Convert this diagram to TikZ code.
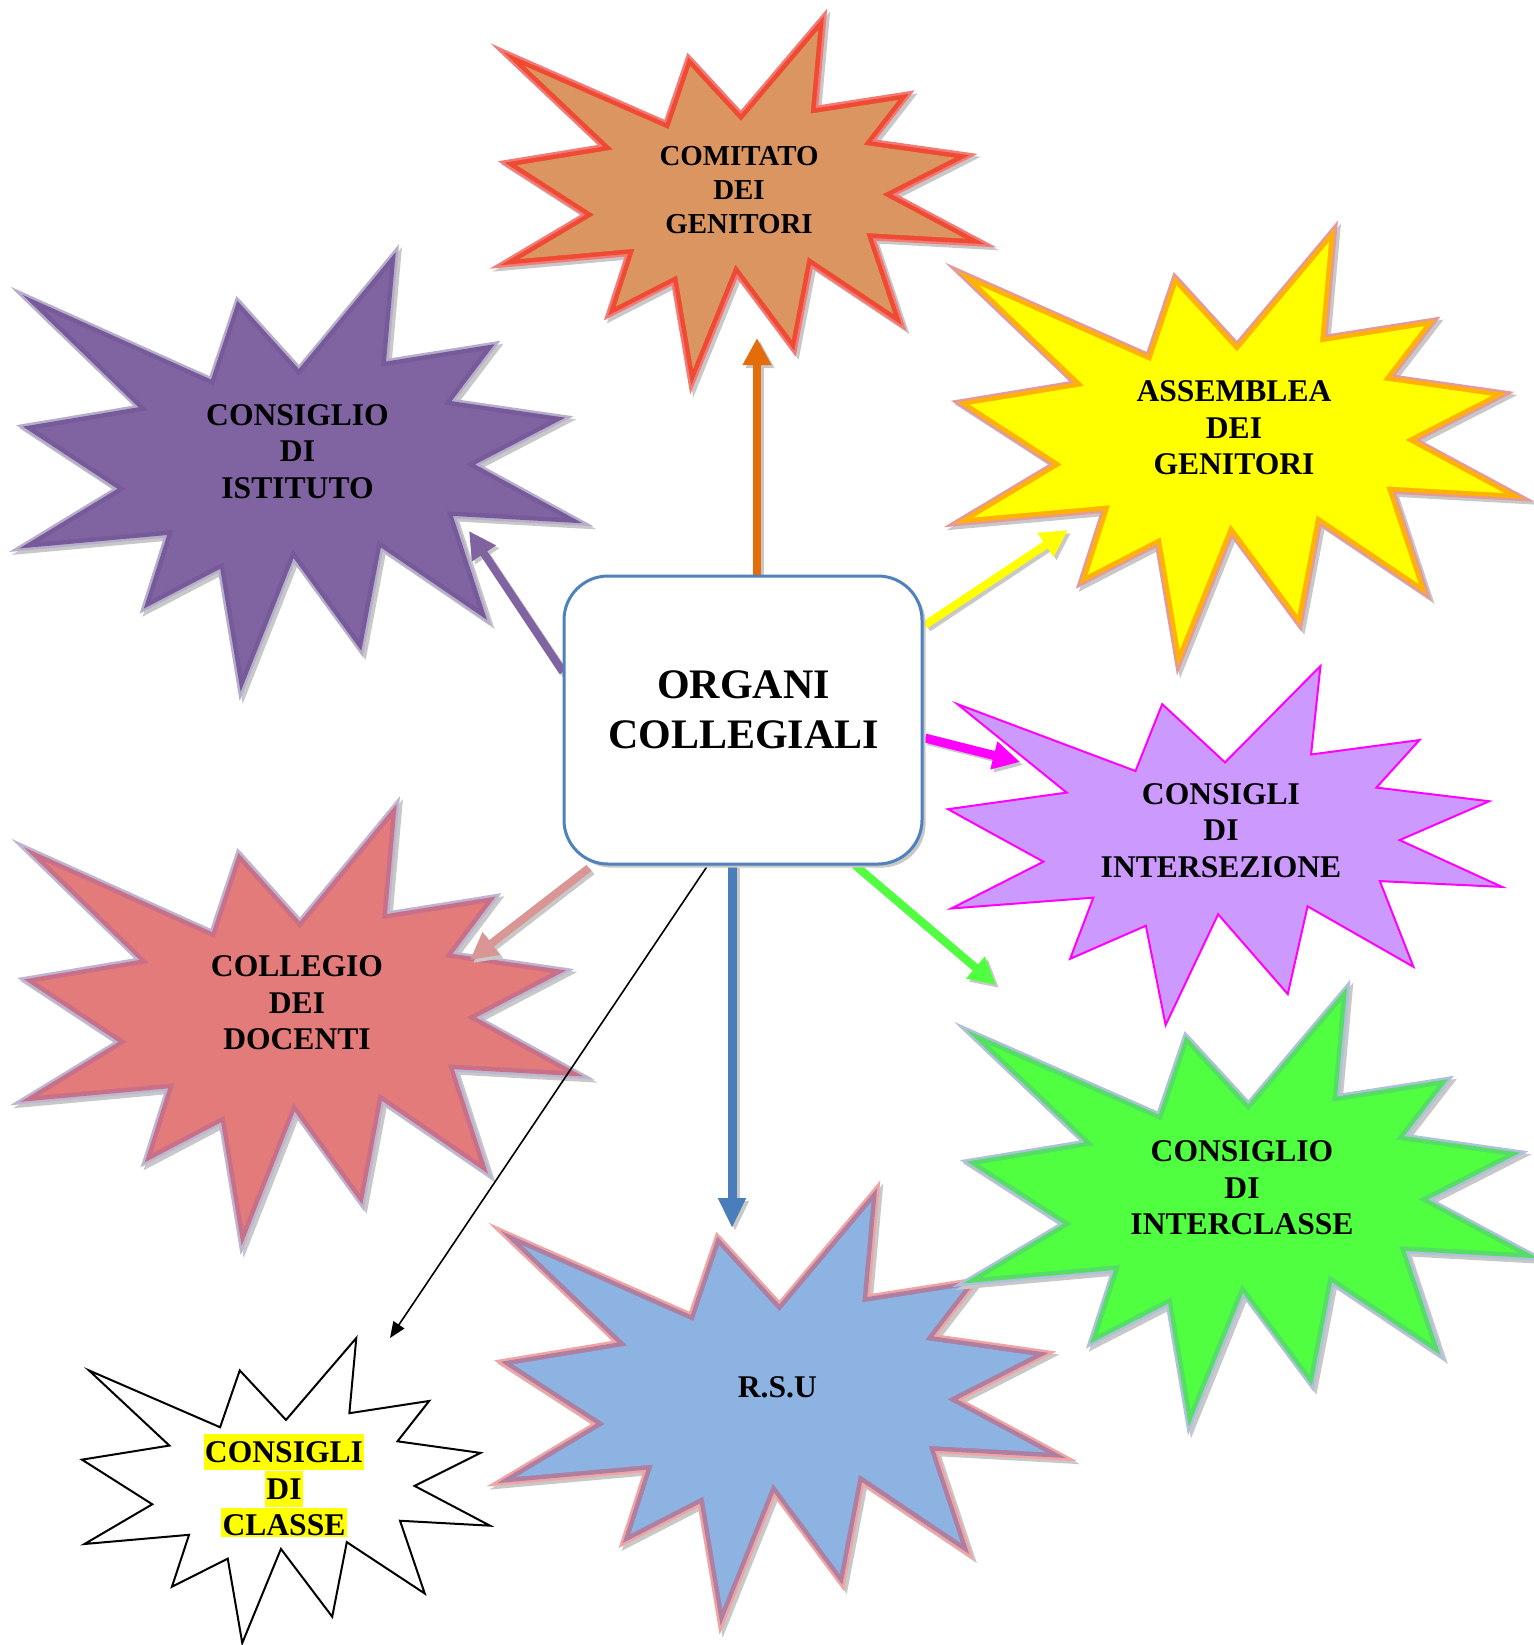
\documentclass[tikz,border=0pt]{standalone}
\usepackage{fontspec}
\setmainfont{Liberation Serif}
\usetikzlibrary{arrows.meta,shadows}

\definecolor{fillA}{HTML}{DA9560}\definecolor{innerA}{HTML}{EF4A33}\definecolor{outerA}{HTML}{F27B78}
\definecolor{fillB}{HTML}{8064A2}\definecolor{innerB}{HTML}{765A9A}\definecolor{outerB}{HTML}{B7AECB}
\definecolor{fillC}{HTML}{FFFF00}\definecolor{innerC}{HTML}{FFB300}\definecolor{outerC}{HTML}{E4999B}
\definecolor{fillD}{HTML}{E47B7B}\definecolor{innerD}{HTML}{C97089}\definecolor{outerD}{HTML}{BEB5D3}
\definecolor{fillF}{HTML}{4FFF40}\definecolor{innerF}{HTML}{55DD66}\definecolor{outerF}{HTML}{AFC1DB}
\definecolor{fillG}{HTML}{8DB3E2}\definecolor{innerG}{HTML}{AE7FA0}\definecolor{outerG}{HTML}{F2A4A4}
\definecolor{fillE}{HTML}{CC99FF}\definecolor{lineE}{HTML}{FF00FF}
\definecolor{shadowcol}{HTML}{C8C8C8}
\definecolor{boxblue}{HTML}{4F81BD}
\definecolor{arrOrange}{HTML}{E46C0A}
\definecolor{arrPurple}{HTML}{8064A2}
\definecolor{arrYellow}{HTML}{FFFF00}
\definecolor{arrMagenta}{HTML}{FF00FF}
\definecolor{arrGreen}{HTML}{50FF40}
\definecolor{arrPink}{HTML}{D99694}
\definecolor{arrBlue}{HTML}{4A7EBB}
\definecolor{hlyellow}{HTML}{FFFF00}

\def\sealpts{(0.5,0.26852) -- (0.67231,0) -- (0.65532,0.24653) -- (0.85093,0.20634) -- (0.77324,0.33866) -- (0.97671,0.37671) -- (0.81514,0.48495) -- (1,0.61528) -- (0.77949,0.59917) -- (0.84005,0.83773) -- (0.64907,0.66931) -- (0.61329,0.91375) -- (0.48759,0.69144) -- (0.39282,1) -- (0.35718,0.72347) -- (0.22046,0.8156) -- (0.26236,0.64523) -- (0.00625,0.67532) -- (0.17231,0.54514) -- (0,0.39884) -- (0.21421,0.35264) -- (0.01713,0.10625) -- (0.33852,0.29259) -- (0.38667,0.10625) -- cycle}

% #1 x0, #2 y0, #3 x1, #4 y1, #5 fill, #6 inner band, #7 outer band
\newcommand\thickseal[7]{%
  \begin{scope}[shift={(#1+3,#2+3)},xscale=#3-#1,yscale=#4-#2]
    \filldraw[shadowcol,line width=7pt] \sealpts;
  \end{scope}
  \begin{scope}[shift={(#1,#2)},xscale=#3-#1,yscale=#4-#2]
    \draw[#7,line width=7pt] \sealpts;
    \draw[#6,line width=4.5pt] \sealpts;
    \fill[#5] \sealpts;
  \end{scope}}
% #1 x0, #2 y0, #3 x1, #4 y1, #5 fill, #6 line
\newcommand\thinseal[6]{%
  \begin{scope}[shift={(#1,#2)},xscale=#3-#1,yscale=#4-#2]
    \filldraw[fill=#5,draw=#6,line width=1pt] \sealpts;
  \end{scope}}

\newcommand\hlline[1]{{\setlength{\fboxsep}{0pt}\colorbox{hlyellow}{\rule[-4pt]{0pt}{18pt}\kern0.6pt#1\kern0.6pt}}}
\newcommand\hllast[1]{{\setlength{\fboxsep}{0pt}\colorbox{hlyellow}{\rule[-0.5pt]{0pt}{14.5pt}\kern0.6pt#1\kern0.6pt}}}

\begin{document}
\begin{tikzpicture}[x=0.5pt,y=-0.5pt,
  lbl/.style={align=center,inner sep=0pt,font=\fontsize{15.8}{18.3}\selectfont\bfseries},
  lblsmall/.style={align=center,inner sep=0pt,font=\fontsize{14.45}{17}\selectfont\bfseries},
  orgtext/.style={align=center,inner sep=0pt,font=\fontsize{21}{25}\selectfont\bfseries},
  orgbox/.style={draw=boxblue,line width=1.5pt,fill=white,rounded corners=22pt,
    minimum width=179pt,minimum height=144pt,inner sep=0pt,
    drop shadow={shadow xshift=1.8pt,shadow yshift=-1.8pt,fill=shadowcol,opacity=1}},
  conn/.style={line width=4pt,-{Triangle[width=13.5pt,length=13.5pt]}},
  connblue/.style={line width=4.5pt,-{Triangle[width=13pt,length=15pt]}},
  thinconn/.style={line width=0.8pt,-{Triangle[width=6.5pt,length=8pt]}},
  shadowed/.style={shadowcol,transform canvas={shift={(1.5pt,-1.5pt)}}}
]
\fill[white] (0,0) rectangle (1533,1645);
\useasboundingbox (0,0) rectangle (1533,1645);

% starbursts
\thickseal{517}{30}{965}{369}{fillA}{innerA}{outerA}
\thickseal{35}{266}{563}{675}{fillB}{innerB}{outerB}
\thickseal{970}{242}{1504}{650}{fillC}{innerC}{outerC}
\thickseal{36}{818}{564}{1229}{fillD}{innerD}{outerD}
\thinseal{948}{666}{1502}{1025}{fillE}{lineE}
\thickseal{513}{1202}{1046}{1609}{fillG}{innerG}{outerG}
\thickseal{979}{1001}{1518}{1410}{fillF}{innerF}{outerF}
\thinseal{82}{1338}{490}{1643}{white}{black}

% labels
\node[lblsmall] (nA) at (739,190) {COMITATO\\DEI\\GENITORI};
\node[lbl] (nB) at (297.5,451.5) {CONSIGLIO\\DI\\ISTITUTO};
\node[lbl] (nC) at (1234,428) {ASSEMBLEA\\DEI\\GENITORI};
\node[lbl] (nD) at (297,1003) {COLLEGIO\\DEI\\DOCENTI};
\node[lbl] (nE) at (1221,830.5) {CONSIGLI\\DI\\INTERSEZIONE};
\node[lbl] (nF) at (1242,1188) {CONSIGLIO\\DI\\INTERCLASSE};
\node[lbl] (nG) at (777.4,1387.5) {R.S.U};
\node[lbl] (nH) at (284,1485.5) {\hlline{CONSIGLI}\\\hlline{DI}\\\hllast{CLASSE}};

% connector end points
\coordinate (o1) at (757,576);  \coordinate (t1) at (757,338);
\coordinate (o2) at (563,672);  \coordinate (t2) at (469,531);
\coordinate (o3) at (925,625);  \coordinate (t3) at (1068,530);
\coordinate (o4) at (925,738);  \coordinate (t4) at (1020,762);
\coordinate (o5) at (855,865);  \coordinate (t5) at (996,985);
\coordinate (o6) at (589,868);  \coordinate (t6) at (470,960);
\coordinate (o7) at (708,865);  \coordinate (t7) at (390,1338);
\coordinate (o8) at (732,865);  \coordinate (t8) at (732,1228);

% connectors
\draw[conn,shadowed] (o1) -- (t1); \draw[conn,arrOrange] (o1) -- (t1);
\draw[conn,shadowed] (o2) -- (t2); \draw[conn,arrPurple] (o2) -- (t2);
\draw[conn,shadowed] (o3) -- (t3); \draw[conn,arrYellow] (o3) -- (t3);
\draw[conn,shadowed] (o4) -- (t4); \draw[conn,arrMagenta,line width=4.5pt] (o4) -- (t4);
\draw[conn,shadowed] (o5) -- (t5); \draw[conn,arrGreen] (o5) -- (t5);
\draw[conn,shadowed] (o6) -- (t6); \draw[conn,arrPink] (o6) -- (t6);
\draw[connblue,shadowed] (o8) -- (t8); \draw[connblue,arrBlue] (o8) -- (t8);
\draw[thinconn,black] (o7) -- (t7);

% central box
\node[orgbox] (org) at (743,720) {};
\node[orgtext] (orgt) at (743.5,710) {ORGANI\\COLLEGIALI};
\end{tikzpicture}
\end{document}
